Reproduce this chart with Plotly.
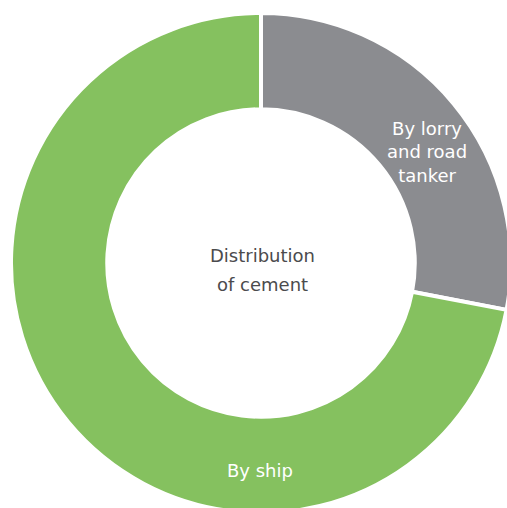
import plotly.graph_objects as go

labels = ["By lorry and road tanker", "By ship"]
values = [28, 72]
colors = ["#8b8c90", "#85c15f"]
center_lines = ["Distribution", "of cement"]

W, H = 520, 520


def px(x):
    return x / W


def py(y):
    return 1 - y / H


fig = go.Figure(go.Pie(
    labels=labels,
    values=values,
    hole=0.615,
    sort=False,
    direction="clockwise",
    rotation=0,
    marker=dict(colors=colors, line=dict(color="white", width=4)),
    textinfo="none",
    hoverinfo="label+percent",
    showlegend=False,
    domain=dict(x=[px(11), px(511)], y=[py(513), py(13)]),
))

font = "DejaVu Sans, sans-serif"
fig.add_annotation(x=px(427), y=py(152), xref="paper", yref="paper",
                   text="By lorry<br>and road<br>tanker", showarrow=False,
                   xanchor="center", yanchor="middle", align="center",
                   font=dict(family=font, size=18, color="white"))
fig.add_annotation(x=px(260), y=py(470), xref="paper", yref="paper",
                   text="By ship", showarrow=False,
                   xanchor="center", yanchor="middle",
                   font=dict(family=font, size=18, color="white"))
for line, yy in zip(center_lines, [255, 284]):
    fig.add_annotation(x=px(262), y=py(yy), xref="paper", yref="paper",
                       text=line, showarrow=False,
                       xanchor="center", yanchor="middle",
                       font=dict(family=font, size=18, color="#4b4b4d"))

fig.update_layout(width=W, height=H, autosize=False,
                  margin=dict(l=0, r=0, t=0, b=0),
                  paper_bgcolor="white", plot_bgcolor="white")

fig.write_html(
    "out.html",
    config={"displayModeBar": False},
    post_script="document.body.style.margin='0';"
                "document.body.style.overflow='hidden';",
)
